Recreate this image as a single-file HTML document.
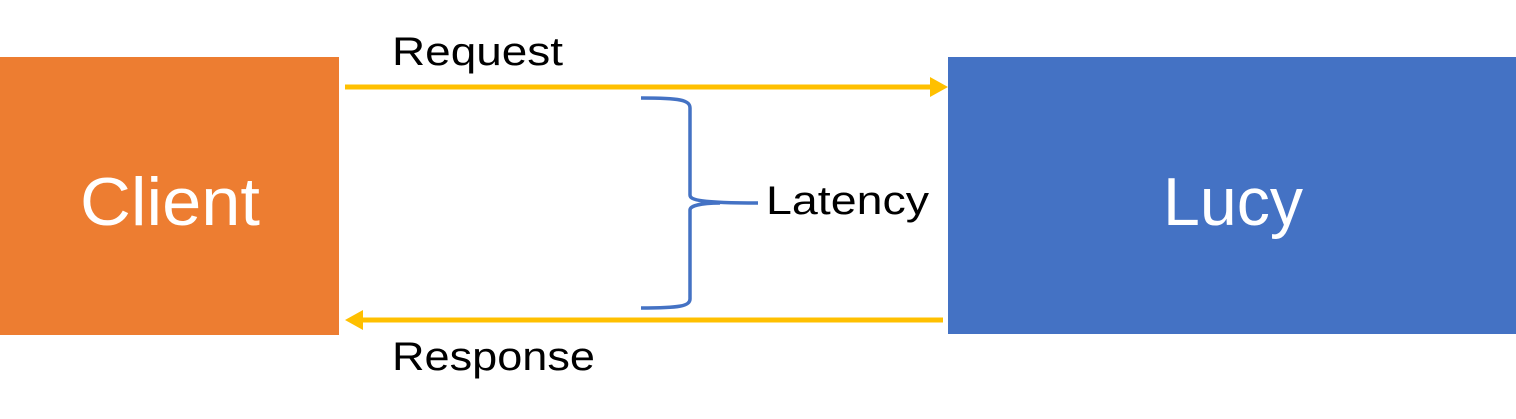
<!DOCTYPE html>
<html><head><style>
html,body{margin:0;padding:0;background:#fff;}
svg{display:block;}
text{font-family:"Liberation Sans","DejaVu Sans",sans-serif;}
</style></head><body>
<svg width="1516" height="419" viewBox="0 0 1516 419" xmlns="http://www.w3.org/2000/svg">
<rect x="0" y="57" width="339" height="278" fill="#ED7D31"/>
<rect x="948" y="57" width="568" height="277" fill="#4472C4"/>
<text x="80" y="225" font-size="68" fill="#fff" textLength="180" lengthAdjust="spacingAndGlyphs">Client</text>
<text x="1163" y="225" font-size="68" fill="#fff" textLength="140" lengthAdjust="spacingAndGlyphs">Lucy</text>
<line x1="345" y1="87" x2="932" y2="87" stroke="#FFC000" stroke-width="5"/>
<polygon points="930,77 948,87 930,97" fill="#FFC000"/>
<line x1="360" y1="320" x2="943" y2="320" stroke="#FFC000" stroke-width="5"/>
<polygon points="363,310 345,320 363,330" fill="#FFC000"/>
<path d="M641,98 C680,98 690,100 690,108 L690,195 C690,200 700,203 758,203 M690,210 C690,206 700,203 720,203 M690,210 L690,299 C690,306 680,308 641,308" fill="none" stroke="#4472C4" stroke-width="3.5"/>
<text x="392" y="65" font-size="40" fill="#000" textLength="171" lengthAdjust="spacingAndGlyphs">Request</text>
<text x="392" y="370" font-size="40" fill="#000" textLength="203" lengthAdjust="spacingAndGlyphs">Response</text>
<text x="766" y="214" font-size="40" fill="#000" textLength="163" lengthAdjust="spacingAndGlyphs">Latency</text>
</svg>
</body></html>
